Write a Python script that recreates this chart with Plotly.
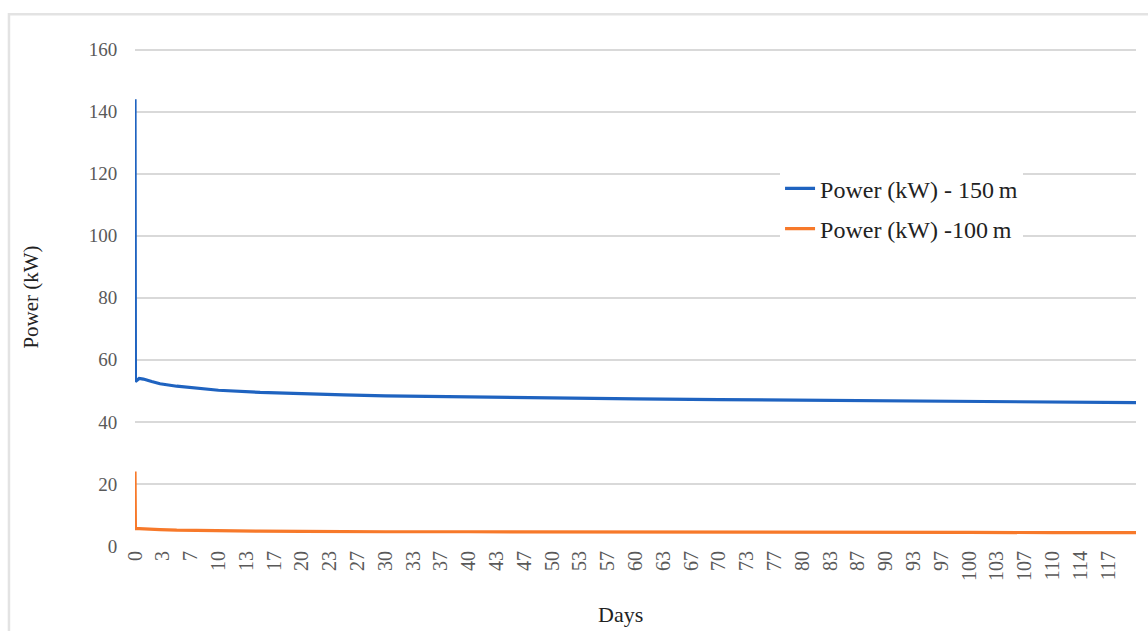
import plotly.graph_objects as go

# ---- data ----
days = [0, 0.05, 0.5, 1, 2, 3, 5, 7, 10, 15, 20, 25, 30, 40, 50, 58, 60, 70, 80, 90, 100, 110, 120]
power_150m = [144, 53, 54, 53.8, 53.0, 52.3, 51.5, 50.9, 50.2, 49.5, 49.0, 48.7, 48.4, 48.0, 47.7,
              47.5, 47.4, 47.2, 47.0, 46.8, 46.6, 46.4, 46.2]
power_100m = [24, 5.6, 5.6, 5.5, 5.4, 5.3, 5.1, 5.0, 4.8, 4.8, 4.7, 4.6, 4.6, 4.6, 4.6,
              4.6, 4.4, 4.4, 4.4, 4.4, 4.4, 4.3, 4.3]

tick_labels = ["0", "3", "7", "10", "13", "17", "20", "23", "27", "30", "33", "37", "40", "43",
               "47", "50", "53", "57", "60", "63", "67", "70", "73", "77", "80", "83", "87", "90",
               "93", "97", "100", "103", "107", "110", "114", "117"]
label_step_days = 10 / 3
tick_positions = [i * label_step_days for i in range(len(tick_labels))]

y_ticks = [0, 20, 40, 60, 80, 100, 120, 140, 160]

FONT = "Liberation Serif"
GRID = "#d9d9d9"
TXT = "#595959"

fig = go.Figure()
fig.add_trace(go.Scatter(x=days, y=power_150m, mode="lines", name="Power (kW) - 150\u2009m",
                         line=dict(color="#1f63c0", width=3.2), legendgroup="a"))
fig.add_trace(go.Scatter(x=days, y=power_100m, mode="lines", name="Power (kW) -100\u2009m",
                         line=dict(color="#f7792a", width=3.2), legendgroup="b"))

fig.update_layout(
    width=1148, height=631,
    margin=dict(l=135, r=12, t=48.45, b=85),
    paper_bgcolor="white", plot_bgcolor="white",
    font=dict(family=FONT, color=TXT),
    showlegend=True,
    legend=dict(x=0.6444, y=0.677, xanchor="left", yanchor="middle",
                font=dict(family=FONT, size=24, color="#222222"),
                bgcolor="rgba(255,255,255,1)", tracegroupgap=6),
    xaxis=dict(range=[0, 120], tickvals=tick_positions, ticktext=tick_labels,
               tickangle=-90, showgrid=False, zeroline=False, showline=False,
               tickfont=dict(family=FONT, size=20, color=TXT),
               ticks="", ticklen=0),
    yaxis=dict(range=[0, 160.5], tickvals=y_ticks, showgrid=True, gridcolor=GRID, gridwidth=1.5,
               zeroline=False, showline=False,
               tickfont=dict(family=FONT, size=19, color=TXT),
               ticks="outside", ticklen=13, tickcolor="rgba(0,0,0,0)",
               title=dict(text="Power (kW)", font=dict(family=FONT, size=21, color="#222222"), standoff=44)),
)

# x-axis title placed to match the reference position (kept fully inside the page)
fig.add_annotation(text="Days", xref="paper", yref="paper", x=0.4855, y=-0.137,
                   xanchor="center", yanchor="middle", showarrow=False,
                   font=dict(family=FONT, size=22, color="#222222"))

# light outer frame of the chart area
fig.add_shape(type="rect", xref="paper", yref="paper",
              x0=-0.1259, x1=1.02, y0=-0.3, y1=1.0676,
              line=dict(color="#e3e3e3", width=2.5), layer="below")

fig.write_html("out.html", config={"displayModeBar": False},
               post_script="document.body.style.margin='0';")
